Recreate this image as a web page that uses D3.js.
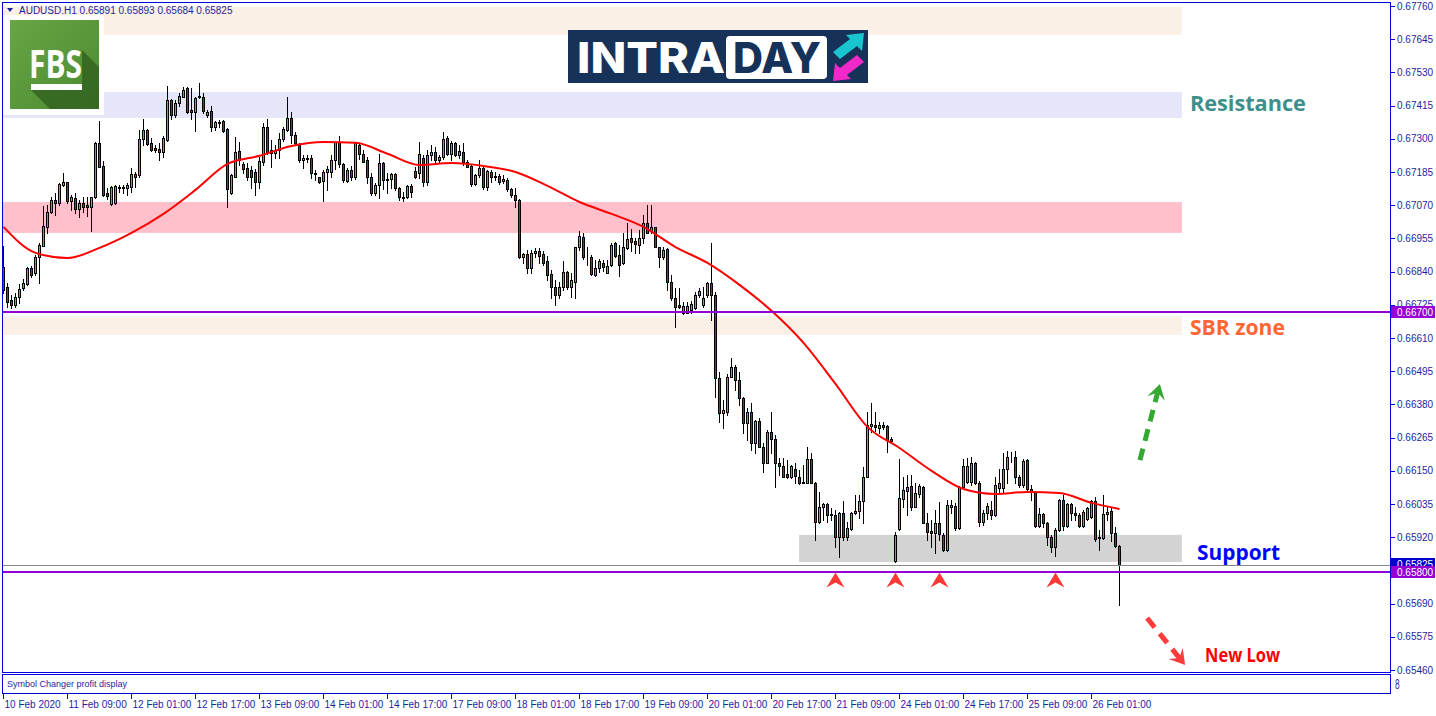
<!DOCTYPE html>
<html lang="en">
<head>
<meta charset="UTF-8">
<title>AUDUSD H1 - Intraday</title>
<script src="https://cdn.jsdelivr.net/npm/d3@7/dist/d3.min.js"></script>
<style>
  body { margin: 0; background: #fff; overflow: hidden; }
  svg { display: block; }
  .axis-text { font-family: "Liberation Sans", Arial, sans-serif; font-size: 10px; fill: #1f1f9e; }
  .note { font-family: "Open Sans", sans-serif; font-weight: 700; }
</style>
</head>
<body>
<svg id="chart" width="1436" height="716"></svg>
<script>
// ---- data (AUDUSD H1) ----
const symbol = "AUDUSD.H1";

const timeLabels = ["10 Feb 2020", "11 Feb 09:00", "12 Feb 01:00", "12 Feb 17:00", "13 Feb 09:00",
  "14 Feb 01:00", "14 Feb 17:00", "17 Feb 09:00", "18 Feb 01:00", "18 Feb 17:00", "19 Feb 09:00",
  "20 Feb 01:00", "20 Feb 17:00", "21 Feb 09:00", "24 Feb 01:00", "24 Feb 17:00", "25 Feb 09:00",
  "26 Feb 01:00"];
const barsPerLabel = 16;

const priceTicks = [0.65460, 0.65575, 0.65690, 0.65805, 0.65920, 0.66035, 0.66150, 0.66265, 0.66380,
  0.66495, 0.66610, 0.66725, 0.66840, 0.66955, 0.67070, 0.67185, 0.67300, 0.67415, 0.67530,
  0.67645, 0.67760];

const open = [
  0.66857,0.66786,0.66740,0.66723,0.66753,0.66782,0.66797,0.66852,0.66834,0.66890,
  0.66930,0.66994,0.67048,0.67088,0.67079,0.67139,0.67150,0.67086,0.67094,0.67056,
  0.67079,0.67070,0.67063,0.67097,0.67285,0.67206,0.67111,0.67074,0.67077,0.67129,
  0.67134,0.67128,0.67134,0.67177,0.67175,0.67298,0.67331,0.67287,0.67267,0.67265,
  0.67256,0.67296,0.67435,0.67384,0.67425,0.67446,0.67475,0.67400,0.67394,0.67444,
  0.67446,0.67384,0.67397,0.67342,0.67356,0.67361,0.67333,0.67111,0.67169,0.67259,
  0.67213,0.67198,0.67192,0.67186,0.67152,0.67221,0.67342,0.67262,0.67252,0.67262,
  0.67298,0.67331,0.67371,0.67313,0.67279,0.67227,0.67229,0.67233,0.67181,0.67166,
  0.67154,0.67186,0.67186,0.67227,0.67289,0.67212,0.67155,0.67192,0.67166,0.67279,
  0.67248,0.67227,0.67167,0.67111,0.67139,0.67215,0.67162,0.67160,0.67178,0.67129,
  0.67100,0.67097,0.67137,0.67190,0.67181,0.67235,0.67152,0.67244,0.67256,0.67225,
  0.67236,0.67302,0.67248,0.67287,0.67244,0.67256,0.67218,0.67206,0.67143,0.67175,
  0.67199,0.67132,0.67185,0.67171,0.67171,0.67154,0.67158,0.67125,0.67105,0.67088,
  0.66889,0.66901,0.66852,0.66903,0.66913,0.66901,0.66878,0.66832,0.66786,0.66759,
  0.66786,0.66839,0.66786,0.66805,0.66924,0.66959,0.66892,0.66889,0.66828,0.66852,
  0.66869,0.66836,0.66863,0.66938,0.66896,0.66869,0.66921,0.66955,0.66947,0.66932,
  0.66955,0.67010,0.66982,0.66994,0.66924,0.66892,0.66917,0.66805,0.66748,0.66725,
  0.66696,0.66698,0.66707,0.66713,0.66759,0.66725,0.66759,0.66800,0.66759,0.66470,
  0.66349,0.66355,0.66476,0.66511,0.66464,0.66401,0.66314,0.66355,0.66247,0.66324,
  0.66233,0.66178,0.66285,0.66259,0.66176,0.66167,0.66138,0.66127,0.66155,0.66130,
  0.66112,0.66109,0.66190,0.66109,0.65974,0.66023,0.66034,0.66000,0.65997,0.65919,
  0.66005,0.65922,0.65947,0.66003,0.66012,0.66046,0.66130,0.66305,0.66310,0.66297,
  0.66309,0.66305,0.66259,0.65839,0.65947,0.66051,0.66081,0.66097,0.66026,0.66070,
  0.66095,0.65970,0.65943,0.65936,0.65970,0.65928,0.65876,0.66026,0.66028,0.65951,
  0.66095,0.66112,0.66112,0.66178,0.66109,0.65974,0.66003,0.66014,0.65997,0.66089,
  0.66089,0.66155,0.66197,0.66199,0.66127,0.66101,0.66188,0.66086,0.66078,0.65959,
  0.65999,0.65968,0.65922,0.65885,0.65945,0.66049,0.65959,0.66035,0.66005,0.65997,
  0.65959,0.65982,0.65989,0.66045,0.65916,0.65916,0.66000,0.66011,0.65936,0.65891];

const high = [
  0.66927,0.66800,0.66759,0.66765,0.66797,0.66813,0.66857,0.66860,0.66898,0.66938,
  0.67068,0.67071,0.67100,0.67111,0.67146,0.67181,0.67152,0.67106,0.67111,0.67088,
  0.67100,0.67100,0.67100,0.67289,0.67362,0.67223,0.67129,0.67137,0.67140,0.67139,
  0.67139,0.67146,0.67198,0.67186,0.67331,0.67368,0.67333,0.67302,0.67279,0.67285,
  0.67308,0.67483,0.67437,0.67435,0.67458,0.67479,0.67479,0.67475,0.67446,0.67492,
  0.67458,0.67400,0.67412,0.67363,0.67365,0.67365,0.67337,0.67178,0.67305,0.67290,
  0.67218,0.67215,0.67206,0.67195,0.67236,0.67356,0.67370,0.67296,0.67279,0.67319,
  0.67342,0.67446,0.67394,0.67325,0.67285,0.67244,0.67244,0.67244,0.67192,0.67169,
  0.67192,0.67206,0.67244,0.67290,0.67310,0.67215,0.67198,0.67206,0.67290,0.67285,
  0.67262,0.67238,0.67181,0.67146,0.67248,0.67218,0.67181,0.67183,0.67181,0.67134,
  0.67117,0.67140,0.67144,0.67201,0.67290,0.67244,0.67262,0.67279,0.67273,0.67244,
  0.67325,0.67308,0.67294,0.67289,0.67279,0.67287,0.67227,0.67213,0.67178,0.67227,
  0.67206,0.67192,0.67192,0.67186,0.67178,0.67175,0.67163,0.67129,0.67129,0.67091,
  0.66904,0.66915,0.66915,0.66921,0.66921,0.66910,0.66894,0.66846,0.66811,0.66805,
  0.66875,0.66843,0.66834,0.66926,0.66982,0.66973,0.66926,0.66898,0.66880,0.66883,
  0.66880,0.66880,0.66938,0.66944,0.66932,0.66973,0.67007,0.66987,0.66955,0.66984,
  0.67036,0.67071,0.67071,0.66996,0.66926,0.66926,0.66921,0.66828,0.66782,0.66782,
  0.66736,0.66736,0.66739,0.66771,0.66782,0.66788,0.66805,0.66938,0.66770,0.66493,
  0.66395,0.66487,0.66540,0.66516,0.66493,0.66407,0.66366,0.66384,0.66326,0.66332,
  0.66245,0.66291,0.66355,0.66274,0.66193,0.66193,0.66187,0.66170,0.66176,0.66153,
  0.66170,0.66233,0.66210,0.66111,0.66078,0.66040,0.66037,0.66020,0.66014,0.66008,
  0.66046,0.65974,0.66008,0.66066,0.66066,0.66164,0.66355,0.66384,0.66355,0.66320,
  0.66318,0.66309,0.66268,0.65939,0.66190,0.66130,0.66135,0.66135,0.66107,0.66104,
  0.66097,0.66003,0.65980,0.66014,0.66043,0.65936,0.66049,0.66049,0.66037,0.66097,
  0.66190,0.66193,0.66197,0.66182,0.66116,0.66014,0.66040,0.66046,0.66130,0.66155,
  0.66211,0.66220,0.66216,0.66220,0.66135,0.66190,0.66190,0.66101,0.66081,0.66020,
  0.66003,0.65974,0.65928,0.65951,0.66051,0.66066,0.66037,0.66037,0.66024,0.66003,
  0.66014,0.66024,0.66049,0.66060,0.65945,0.66066,0.66024,0.66020,0.65954,0.65893];

const low = [
  0.66765,0.66719,0.66713,0.66719,0.66730,0.66777,0.66794,0.66823,0.66829,0.66800,
  0.66927,0.66973,0.67042,0.67036,0.67071,0.67137,0.67077,0.67054,0.67042,0.67028,
  0.67048,0.67031,0.66982,0.67094,0.67202,0.67102,0.67091,0.67071,0.67074,0.67117,
  0.67111,0.67106,0.67117,0.67134,0.67169,0.67279,0.67279,0.67259,0.67256,0.67227,
  0.67236,0.67294,0.67368,0.67377,0.67412,0.67444,0.67391,0.67368,0.67328,0.67440,
  0.67388,0.67377,0.67328,0.67331,0.67342,0.67325,0.67063,0.67108,0.67167,0.67210,
  0.67183,0.67158,0.67129,0.67106,0.67129,0.67210,0.67248,0.67204,0.67233,0.67233,
  0.67294,0.67328,0.67285,0.67279,0.67221,0.67198,0.67218,0.67163,0.67158,0.67146,
  0.67086,0.67123,0.67169,0.67195,0.67204,0.67152,0.67152,0.67158,0.67162,0.67229,
  0.67218,0.67146,0.67106,0.67106,0.67094,0.67125,0.67111,0.67129,0.67123,0.67088,
  0.67083,0.67094,0.67100,0.67163,0.67163,0.67137,0.67140,0.67227,0.67221,0.67215,
  0.67231,0.67244,0.67227,0.67241,0.67233,0.67210,0.67201,0.67137,0.67140,0.67169,
  0.67125,0.67123,0.67152,0.67158,0.67144,0.67146,0.67120,0.67100,0.67063,0.66886,
  0.66871,0.66834,0.66834,0.66892,0.66871,0.66863,0.66811,0.66748,0.66725,0.66748,
  0.66777,0.66779,0.66753,0.66748,0.66915,0.66885,0.66863,0.66828,0.66825,0.66840,
  0.66843,0.66834,0.66860,0.66892,0.66825,0.66866,0.66917,0.66910,0.66903,0.66903,
  0.66940,0.66973,0.66973,0.66924,0.66855,0.66883,0.66777,0.66742,0.66649,0.66713,
  0.66693,0.66696,0.66698,0.66710,0.66753,0.66719,0.66753,0.66673,0.66406,0.66320,
  0.66297,0.66343,0.66474,0.66430,0.66378,0.66280,0.66257,0.66222,0.66213,0.66231,
  0.66147,0.66176,0.66210,0.66095,0.66135,0.66127,0.66124,0.66124,0.66109,0.66104,
  0.66107,0.66107,0.66107,0.65910,0.65970,0.65980,0.65974,0.65980,0.65887,0.65852,
  0.65912,0.65910,0.65945,0.66000,0.65985,0.65970,0.66127,0.66285,0.66289,0.66280,
  0.66294,0.66216,0.66251,0.65835,0.65945,0.66026,0.65997,0.66014,0.66023,0.66060,
  0.65968,0.65910,0.65887,0.65864,0.65912,0.65873,0.65873,0.66005,0.65945,0.65947,
  0.66095,0.66107,0.66101,0.66104,0.65959,0.65962,0.65982,0.65982,0.65993,0.66070,
  0.66078,0.66109,0.66182,0.66109,0.66095,0.66095,0.66078,0.66049,0.65957,0.65954,
  0.65957,0.65893,0.65870,0.65855,0.65943,0.65945,0.65957,0.65980,0.65980,0.65957,
  0.65957,0.65980,0.65985,0.65908,0.65876,0.65913,0.65980,0.65908,0.65887,0.65684];

const close = [
  0.66777,0.66733,0.66726,0.66751,0.66779,0.66802,0.66852,0.66829,0.66890,0.66932,
  0.66998,0.67048,0.67088,0.67079,0.67143,0.67150,0.67086,0.67097,0.67056,0.67079,
  0.67063,0.67063,0.67097,0.67287,0.67204,0.67106,0.67102,0.67134,0.67137,0.67134,
  0.67129,0.67139,0.67177,0.67169,0.67298,0.67331,0.67282,0.67262,0.67262,0.67256,
  0.67302,0.67435,0.67384,0.67425,0.67449,0.67469,0.67394,0.67394,0.67440,0.67449,
  0.67398,0.67392,0.67342,0.67357,0.67359,0.67328,0.67125,0.67175,0.67256,0.67225,
  0.67195,0.67169,0.67169,0.67152,0.67223,0.67342,0.67252,0.67252,0.67262,0.67298,
  0.67333,0.67371,0.67313,0.67285,0.67225,0.67235,0.67235,0.67181,0.67177,0.67152,
  0.67185,0.67195,0.67227,0.67289,0.67212,0.67158,0.67192,0.67166,0.67287,0.67248,
  0.67221,0.67166,0.67111,0.67139,0.67215,0.67158,0.67158,0.67178,0.67129,0.67097,
  0.67094,0.67137,0.67116,0.67166,0.67247,0.67152,0.67244,0.67256,0.67225,0.67236,
  0.67298,0.67248,0.67287,0.67244,0.67259,0.67218,0.67204,0.67143,0.67175,0.67199,
  0.67132,0.67190,0.67169,0.67166,0.67152,0.67162,0.67125,0.67105,0.67088,0.66889,
  0.66901,0.66852,0.66906,0.66913,0.66894,0.66871,0.66828,0.66786,0.66759,0.66786,
  0.66839,0.66786,0.66811,0.66924,0.66964,0.66892,0.66889,0.66832,0.66852,0.66877,
  0.66857,0.66860,0.66932,0.66894,0.66863,0.66924,0.66952,0.66944,0.66936,0.66955,
  0.67010,0.66975,0.66994,0.66926,0.66892,0.66915,0.66805,0.66748,0.66719,0.66719,
  0.66722,0.66722,0.66728,0.66759,0.66774,0.66748,0.66800,0.66759,0.66472,0.66349,
  0.66361,0.66476,0.66511,0.66464,0.66401,0.66314,0.66355,0.66247,0.66324,0.66233,
  0.66178,0.66285,0.66259,0.66176,0.66167,0.66130,0.66127,0.66167,0.66132,0.66109,
  0.66109,0.66190,0.66109,0.65974,0.66023,0.66034,0.65997,0.65997,0.65919,0.66005,
  0.65922,0.65951,0.66003,0.66012,0.66046,0.66130,0.66309,0.66312,0.66303,0.66309,
  0.66301,0.66257,0.66254,0.65928,0.66055,0.66083,0.66095,0.66026,0.66072,0.66097,
  0.65970,0.65939,0.65936,0.65970,0.65931,0.65876,0.66031,0.66032,0.65951,0.66095,
  0.66167,0.66167,0.66178,0.66109,0.65974,0.66003,0.66028,0.65997,0.66101,0.66109,
  0.66155,0.66197,0.66199,0.66127,0.66101,0.66185,0.66086,0.66078,0.65959,0.65999,
  0.65968,0.65922,0.65885,0.65945,0.66049,0.65959,0.66035,0.66005,0.65997,0.65959,
  0.66009,0.66020,0.66045,0.65913,0.65920,0.66000,0.66009,0.65936,0.65890,0.65825];

// moving average, read every 8 bars
const maBars = [0, 8, 16, 24, 32, 40, 48, 56, 64, 72, 80, 88, 96, 104, 112, 120, 128, 136, 144,
  152, 160, 168, 176, 184, 192, 200, 208, 216, 224, 232, 240, 248, 256, 264, 272, 279];
const maValues = [0.66995, 0.66905, 0.66887, 0.66922, 0.66974, 0.67040, 0.67123, 0.67213, 0.67241,
  0.67275, 0.67289, 0.67286, 0.67248, 0.67209, 0.67216, 0.67206, 0.67185, 0.67137, 0.67081,
  0.67040, 0.66995, 0.66925, 0.66870, 0.66794, 0.66704, 0.66593, 0.66451, 0.66302, 0.66229,
  0.66150, 0.66087, 0.66070, 0.66077, 0.66073, 0.66039, 0.66018];

// drawn zones: price top / bottom, first bar
const zoneTop = [0.67757, 0.67462, 0.67081, 0.66686, 0.65928];
const zoneBottom = [0.67660, 0.67372, 0.66974, 0.66621, 0.65834];
const zoneFrom = [-1, -1, -1, -1, 198.9];
const zoneTo = 294.6;

const levels = [0.66700, 0.65800];
const lowMarks = [208, 223, 234, 263];

// ---- layout ----
const svg = d3.select('#chart');
const x = d3.scaleLinear().domain([0, 346.5]).range([3.5, 1389.5]);
const y = d3.scaleLinear().domain([0.6546, 0.6776]).range([670, 6]);
const navy = '#1f1f9e', frameBlue = '#0000dd', purple = '#9400d3';
const zoneColors = ['#faf0e6', '#e6e6fa', '#ffc0cb', '#faf0e6', '#d3d3d3'];

svg.append('rect').attr('width', 1436).attr('height', 716).attr('fill', '#fff');

const defs = svg.append('defs');
defs.append('clipPath').attr('id', 'plotClip')
  .append('rect').attr('x', 3).attr('y', 3).attr('width', 1387).attr('height', 669);
const fbsGrad = defs.append('linearGradient').attr('id', 'fbsGrad')
  .attr('x1', 0).attr('y1', 0).attr('x2', 1).attr('y2', 1);
fbsGrad.append('stop').attr('offset', 0).attr('stop-color', '#67a545');
fbsGrad.append('stop').attr('offset', 1).attr('stop-color', '#4c8a31');

const plot = svg.append('g').attr('clip-path', 'url(#plotClip)');

// zones
plot.selectAll('rect.zone')
  .data(zoneTop.map((t, k) => ({ t, b: zoneBottom[k], f: zoneFrom[k], k })))
  .join('rect').attr('class', 'zone')
  .attr('x', d => x(d.f)).attr('width', d => x(zoneTo) - x(d.f))
  .attr('y', d => y(d.t)).attr('height', d => y(d.b) - y(d.t))
  .attr('fill', d => zoneColors[d.k]);

// FBS logo
const fbs = plot.append('g');
fbs.append('rect').attr('x', 3).attr('y', 15).attr('width', 101).attr('height', 100).attr('fill', '#fff');
fbs.append('rect').attr('x', 10).attr('y', 20).attr('width', 89).attr('height', 89).attr('fill', 'url(#fbsGrad)');
fbs.append('polygon').attr('points', '82,50 99,67 99,109 50,109 31,90 82,90')
  .attr('fill', '#2f5e1c').attr('opacity', 0.75);
fbs.append('text').attr('x', 29).attr('y', 78).attr('textLength', 53).attr('lengthAdjust', 'spacingAndGlyphs')
  .attr('font-family', '"Open Sans", sans-serif').attr('font-weight', 700).attr('font-size', 39)
  .attr('fill', '#fff').text('FBS');
fbs.append('rect').attr('x', 31).attr('y', 84).attr('width', 51).attr('height', 6).attr('fill', '#fff');

// INTRADAY logo
const logo = plot.append('g');
logo.append('rect').attr('x', 568).attr('y', 30).attr('width', 300).attr('height', 53).attr('fill', '#163259');
logo.append('text').attr('x', 577).attr('y', 73).attr('textLength', 148).attr('lengthAdjust', 'spacingAndGlyphs')
  .attr('font-family', 'Inter, "Open Sans", sans-serif').attr('font-weight', 800).attr('font-size', 43)
  .attr('fill', '#fff').text('INTRA');
logo.append('rect').attr('x', 726).attr('y', 36).attr('width', 101).attr('height', 43).attr('rx', 4).attr('fill', '#fff');
logo.append('text').attr('x', 733).attr('y', 73).attr('textLength', 88).attr('lengthAdjust', 'spacingAndGlyphs')
  .attr('font-family', 'Inter, "Open Sans", sans-serif').attr('font-weight', 800).attr('font-size', 43)
  .attr('fill', '#163259').text('DAY');
logo.append('polygon').attr('points', '833,52 850,39 846,35 864,33 862,51 857,46 840,59').attr('fill', '#19c6cf');
logo.append('polygon').attr('points', '864,62 847,75 851,79 833,81 835,63 840,68 857,55').attr('fill', '#f229c8');

// candles
const bars = open.map((o, i) => ({ i, o, h: high[i], l: low[i], c: close[i] }));
const cg = plot.append('g');
cg.selectAll('line').data(bars).join('line')
  .attr('x1', d => x(d.i)).attr('x2', d => x(d.i))
  .attr('y1', d => Math.round(y(d.h))).attr('y2', d => Math.round(y(d.l)) + 1)
  .attr('stroke', '#000').attr('stroke-width', 1);
cg.selectAll('rect').data(bars).join('rect')
  .attr('x', d => x(d.i) - 1).attr('width', 2)
  .attr('y', d => Math.round(y(Math.max(d.o, d.c))) + 0.5)
  .attr('height', d => Math.round(y(Math.min(d.o, d.c))) - Math.round(y(Math.max(d.o, d.c))))
  .attr('fill', d => d.c >= d.o ? '#22dd22' : '#dd1111')
  .attr('stroke', '#000').attr('stroke-width', 1);

// moving average
plot.append('path')
  .datum(maBars.map((b, k) => [b, maValues[k]]))
  .attr('d', d3.line().x(d => x(d[0])).y(d => y(d[1])).curve(d3.curveMonotoneX))
  .attr('fill', 'none').attr('stroke', '#ff0000').attr('stroke-width', 2);

// bid line + horizontal levels
const last = close.length - 1;
plot.append('line').attr('x1', 3).attr('x2', 1390)
  .attr('y1', Math.round(y(close[last])) + 0.5).attr('y2', Math.round(y(close[last])) + 0.5)
  .attr('stroke', '#888').attr('stroke-width', 1);
plot.selectAll('line.level').data(levels).join('line').attr('class', 'level')
  .attr('x1', 3).attr('x2', 1390)
  .attr('y1', d => Math.round(y(d))).attr('y2', d => Math.round(y(d)))
  .attr('stroke', purple).attr('stroke-width', 2);

// red chevrons under the lows
plot.selectAll('path.mark').data(lowMarks).join('path').attr('class', 'mark')
  .attr('transform', d => `translate(${x(d)},${y(0.65798)})`)
  .attr('d', 'M0,0 L9,15 L0,10 L-9,15 Z')
  .attr('fill', '#ff3838');

// dashed arrows
function dashedArrow(from, to, color) {
  const p0 = [x(from[0]), y(from[1])], p1 = [x(to[0]), y(to[1])];
  const len = Math.hypot(p1[0] - p0[0], p1[1] - p0[1]);
  const ux = (p1[0] - p0[0]) / len, uy = (p1[1] - p0[1]) / len;
  const nx = -uy, ny = ux;
  plot.append('line')
    .attr('x1', p0[0]).attr('y1', p0[1])
    .attr('x2', p1[0] - ux * 9).attr('y2', p1[1] - uy * 9)
    .attr('stroke', color).attr('stroke-width', 5).attr('stroke-dasharray', '12,8');
  const bx = p1[0] - ux * 15, by = p1[1] - uy * 15;
  const pts = [[p1[0], p1[1]], [bx + nx * 9, by + ny * 9],
    [p1[0] - ux * 9, p1[1] - uy * 9], [bx - nx * 9, by - ny * 9]];
  plot.append('polygon').attr('points', pts.map(p => p.join(',')).join(' ')).attr('fill', color);
}
dashedArrow([284.1, 0.66187], [289.1, 0.66451], '#35a833');
dashedArrow([285.9, 0.65640], [295.4, 0.65477], '#ff3b3b');

// notes
const notes = [
  { text: 'Resistance', bar: 296.6, price: 0.67428, size: 22, width: 116, color: '#3e8f8b' },
  { text: 'SBR zone', bar: 296.6, price: 0.66651, size: 22, width: 95, color: '#ff6633' },
  { text: 'Support', bar: 298.4, price: 0.65873, size: 22, width: 83, color: '#0000ff' },
  { text: 'New Low', bar: 300.4, price: 0.65512, size: 19, width: 75, color: '#ff0000' }
];
plot.selectAll('text.note').data(notes).join('text').attr('class', 'note')
  .attr('x', d => x(d.bar)).attr('y', d => y(d.price))
  .attr('dominant-baseline', 'central')
  .attr('font-size', d => d.size).attr('textLength', d => d.width).attr('lengthAdjust', 'spacingAndGlyphs')
  .attr('fill', d => d.color).text(d => d.text);

// header
svg.append('polygon').attr('points', '7,8 13,8 10,12').attr('fill', navy);
svg.append('text').attr('class', 'axis-text').attr('x', 19).attr('y', 14)
  .text(`${symbol} ${open[last].toFixed(5)} ${high[last].toFixed(5)} ${low[last].toFixed(5)} ${close[last].toFixed(5)}`);

// frames
svg.append('rect').attr('x', 2.5).attr('y', 2.5).attr('width', 1388).attr('height', 670)
  .attr('fill', 'none').attr('stroke', frameBlue);
svg.append('rect').attr('x', 2.5).attr('y', 674.5).attr('width', 1388).attr('height', 19)
  .attr('fill', 'none').attr('stroke', frameBlue);
svg.append('text').attr('class', 'axis-text').attr('x', 7).attr('y', 687).style('font-size', '9px')
  .text('Symbol Changer profit display');
svg.append('text').attr('class', 'axis-text').attr('x', 0).attr('y', 0).style('font-size', '15px')
  .attr('transform', 'translate(1395,689) scale(0.55,1)').text('8');

// price axis (the tick hidden behind the price tags carries no text)
const tagged = [0.65805];
const pa = svg.append('g');
pa.selectAll('line').data(priceTicks).join('line')
  .attr('x1', 1390).attr('x2', 1395)
  .attr('y1', d => Math.round(y(d)) + 0.5).attr('y2', d => Math.round(y(d)) + 0.5)
  .attr('stroke', frameBlue);
pa.selectAll('text').data(priceTicks.filter(d => !tagged.includes(d))).join('text').attr('class', 'axis-text')
  .attr('x', 1397).attr('y', d => y(d)).attr('dominant-baseline', 'central')
  .text(d => d.toFixed(5));

// price labels on the axis
const tags = [
  { price: close[last], color: '#0000cc', dy: -1 },
  { price: levels[0], color: purple, dy: 0 },
  { price: levels[1], color: purple, dy: 0 }
];
tags.forEach(t => {
  const yy = Math.round(y(t.price)) + t.dy;
  pa.append('rect').attr('x', 1391).attr('y', yy - 6).attr('width', 44).attr('height', 12).attr('fill', t.color);
  pa.append('text').attr('class', 'axis-text').attr('x', 1397).attr('y', yy)
    .attr('dominant-baseline', 'central').style('fill', '#fff').text(t.price.toFixed(5));
});

// time axis
const ta = svg.append('g');
ta.selectAll('line').data(timeLabels).join('line')
  .attr('x1', (d, k) => x(k * barsPerLabel)).attr('x2', (d, k) => x(k * barsPerLabel))
  .attr('y1', 694).attr('y2', 699).attr('stroke', frameBlue);
ta.selectAll('text').data(timeLabels).join('text').attr('class', 'axis-text')
  .attr('x', (d, k) => x(k * barsPerLabel) + 1).attr('y', 708)
  .text(d => d);
</script>
</body>
</html>
